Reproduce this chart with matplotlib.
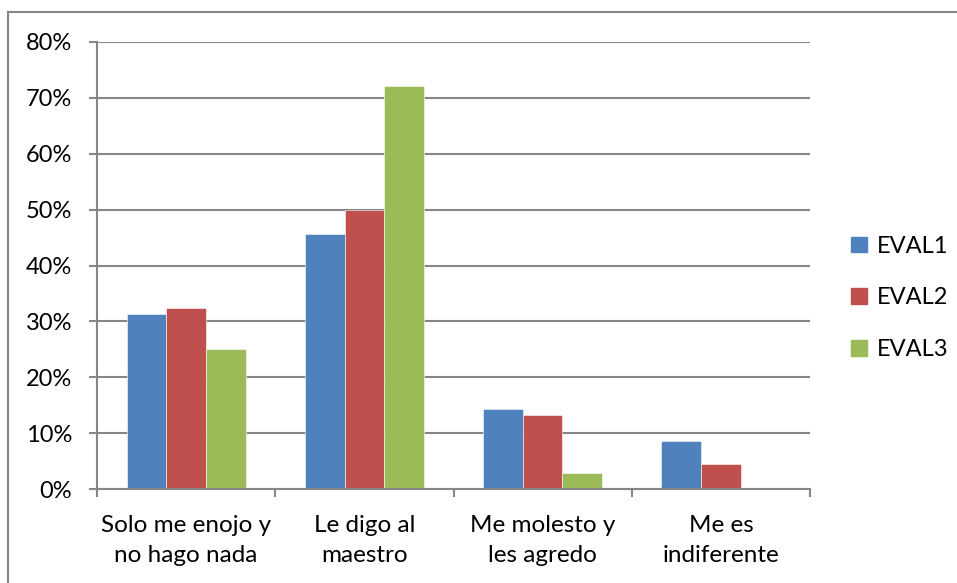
import matplotlib.pyplot as plt
import numpy as np
from matplotlib.lines import Line2D
from matplotlib.patches import Patch

categories = ["Solo me enojo y\nno hago nada", "Le digo al\nmaestro",
              "Me molesto y\nles agredo", "Me es\nindiferente"]
eval1 = [31.4, 45.7, 14.3, 8.6]
eval2 = [32.4, 50.0, 13.2, 4.4]
eval3 = [25.0, 72.2, 2.8, 0.0]
series_names = ["EVAL1", "EVAL2", "EVAL3"]
yticks = [0, 10, 20, 30, 40, 50, 60, 70, 80]

colors = ["#4F81BD", "#C0504D", "#9BBB59"]
grid_color = "#868686"

plt.rcParams['font.family'] = ['Lato', 'DejaVu Sans']

fig = plt.figure(figsize=(9.57, 5.83), dpi=100)
ax = fig.add_axes([97 / 957, 1 - 489 / 583, 713 / 957, 447 / 583])

x = np.arange(len(categories))
width = 1 / 4.5
for i, (vals, name) in enumerate(zip([eval1, eval2, eval3], series_names)):
    ax.bar(x + (i - 1) * width, vals, width, color=colors[i], label=name,
           edgecolor='white', linewidth=0.4, zorder=3)

ax.set_xlim(-0.5, len(categories) - 0.5)
ax.set_ylim(0, 80)
ax.set_yticks(yticks)
ax.set_yticklabels([f"{v}%" for v in yticks], fontsize=17)
ax.set_xticks(x)
ax.set_xticklabels(categories, fontsize=17.5, linespacing=1.5)
ax.set_xticks(np.arange(len(categories) + 1) - 0.5, minor=True)
ax.tick_params(axis='x', which='major', length=0, pad=19)
ax.tick_params(axis='x', which='minor', length=6, width=1.5, color=grid_color)
ax.tick_params(axis='y', length=6, width=1.5, color=grid_color, pad=12)

ax.grid(axis='y', color=grid_color, linewidth=1.5, zorder=0)
for side in ['top', 'right']:
    ax.spines[side].set_visible(False)
for side in ['left', 'bottom']:
    ax.spines[side].set_color(grid_color)
    ax.spines[side].set_linewidth(1.5)
ax.spines['bottom'].set_zorder(4)

handles = [Patch(color=c) for c in colors]
fig.legend(handles, series_names, loc='center left',
           bbox_to_anchor=(830 / 957, 1 - 298 / 583), frameon=False,
           fontsize=17, handlelength=0.65, handleheight=0.65,
           labelspacing=1.3, handletextpad=0.45)

# outer chart border (only left and top edges visible)
fig.add_artist(Line2D([8 / 957, 8 / 957], [0, 1 - 12 / 583],
                      transform=fig.transFigure, color=grid_color, linewidth=1.5))
fig.add_artist(Line2D([8 / 957, 1], [1 - 12 / 583, 1 - 12 / 583],
                      transform=fig.transFigure, color=grid_color, linewidth=1.5))

fig.savefig("out.png", dpi=100)
